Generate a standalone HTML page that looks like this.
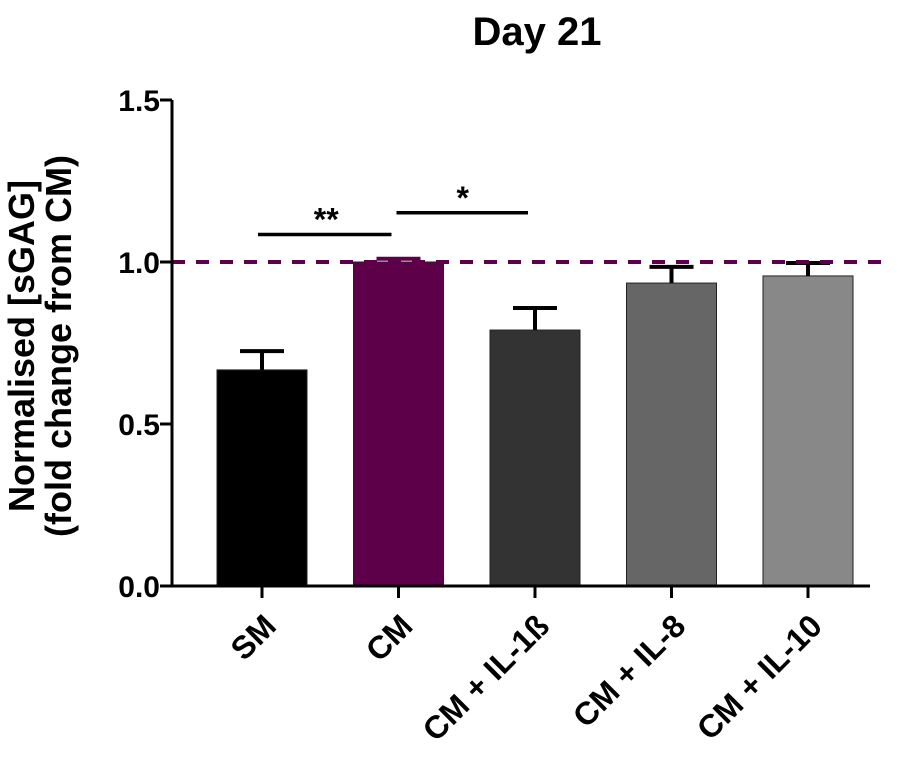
<!DOCTYPE html>
<html><head><meta charset="utf-8"><style>
body{margin:0;background:#fff;}
svg{display:block;font-family:"Liberation Sans",Arial,sans-serif;font-weight:bold;}
</style></head><body>
<svg id="chart" width="905" height="760" viewBox="0 0 905 760">
<text x="537" y="45" font-size="40" text-anchor="middle">Day 21</text>
<g transform="translate(34,346) rotate(-90)">
<text x="0" y="0" font-size="36" text-anchor="middle">Normalised [sGAG]</text>
<text x="0" y="37" font-size="36" text-anchor="middle">(fold change from CM)</text>
</g>
<g id="plot"></g>
</svg>
<script>
const categories=["SM","CM","CM + IL-1ß","CM + IL-8","CM + IL-10"];
const values=[0.667,1.0,0.79,0.935,0.957];
const errors=[0.058,0.01,0.068,0.05,0.04];
const colors=["#000000","#5e0049","#333333","#666666","#888888"];
const yTicks=[0,0.5,1.0,1.5];
const yTickLabels=["0.0","0.5","1.0","1.5"];
const sigPairs=[[0,1,1.085,"**"],[1,2,1.152,"*"]];
const refValue=1.0;

const NS="http://www.w3.org/2000/svg";
const plot=document.getElementById('plot');
const x0=172,x1=870,y0=586,yTop=100,yMax=1.5;
const y=v=>y0-(y0-yTop)*v/yMax;
const step=136.5,first=262,bw=90;
const xc=i=>first+i*step;
function mk(t,a){const e=document.createElementNS(NS,t);for(const k in a)e.setAttribute(k,a[k]);plot.appendChild(e);return e;}

categories.forEach((c,i)=>{
  const b=mk('rect',{x:xc(i)-bw/2,y:y(values[i]),width:bw,height:y0-y(values[i]),fill:colors[i],stroke:"#222","stroke-width":1});
  
  
  const top=y(values[i]+errors[i]);
  const e1=mk('line',{x1:xc(i),x2:xc(i),y1:y(values[i]),y2:top,stroke:i==1?"#5e0049":"#000","stroke-width":4});
  
  
  const e2=mk('line',{x1:xc(i)-22,x2:xc(i)+22,y1:top,y2:top,stroke:i==1?"#5e0049":"#000","stroke-width":4});
  
  
  const tk=mk('line',{x1:xc(i),x2:xc(i),y1:y0,y2:y0+12,stroke:"#000","stroke-width":3});
  
  
  const t=mk('text',{x:0,y:0,"font-size":32,"text-anchor":"end",transform:`translate(${xc(i)+16},${y0+42}) rotate(-45)`});
  t.textContent=c;
  
  
});

const dl=mk('line',{x1:x0,x2:890,y1:y(refValue),y2:y(refValue),stroke:"#5e0049","stroke-width":4,"stroke-dasharray":"13,11"});



const ya=mk('line',{x1:x0,x2:x0,y1:yTop,y2:y0+1.5,stroke:"#000","stroke-width":3});


const xa=mk('line',{x1:x0-1.5,x2:x1,y1:y0,y2:y0,stroke:"#000","stroke-width":3});



yTicks.forEach((v,i)=>{
  const tk=mk('line',{x1:x0-12,x2:x0,y1:y(v),y2:y(v),stroke:"#000","stroke-width":3});
  
  
  const t=mk('text',{x:x0-12,y:y(v)+11,"font-size":30,"text-anchor":"end"});
  t.textContent=yTickLabels[i];
  
  
});

sigPairs.forEach(p=>{
  const ly=y(p[2]);
  const l=mk('line',{x1:xc(p[0])-4,x2:xc(p[1])-7,y1:ly,y2:ly,stroke:"#000","stroke-width":3.5});
  if(p[0]===1){l.setAttribute('x1',xc(p[0])-2);}
  
  
  const t=mk('text',{x:(xc(p[0])+xc(p[1]))/2-4,y:ly-4,"font-size":32,"text-anchor":"middle"});
  t.textContent=p[3];
  
  
});
</script>
</body></html>
